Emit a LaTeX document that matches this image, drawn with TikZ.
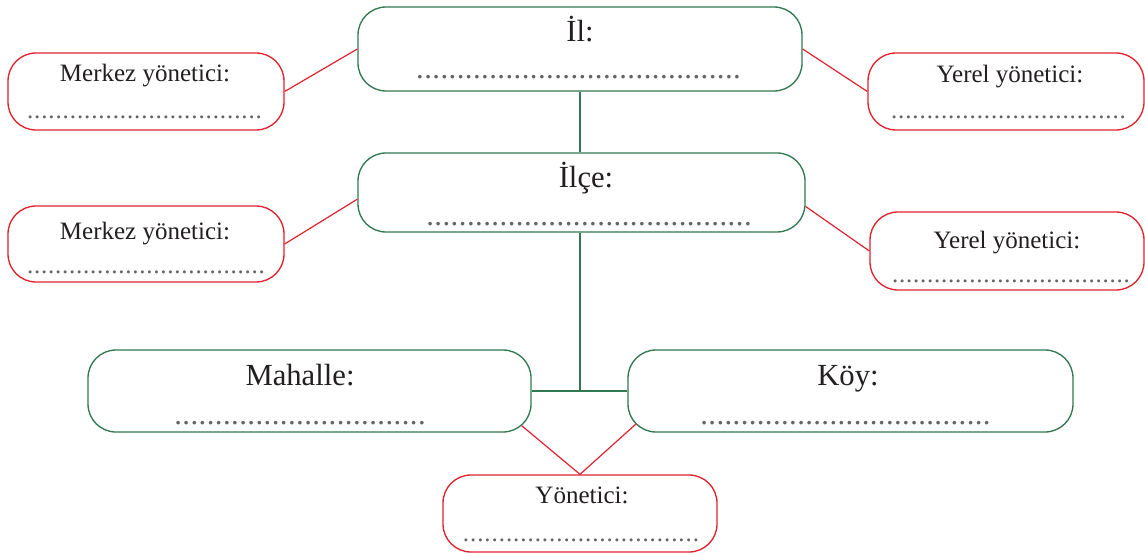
\documentclass[tikz,border=0pt]{standalone}
\usepackage{fontspec}
\setmainfont{Liberation Serif}
\definecolor{boxgreen}{RGB}{50,120,80}
\definecolor{boxred}{RGB}{225,35,45}
\definecolor{dotgray}{RGB}{100,100,100}
\definecolor{ink}{RGB}{35,31,32}
\newcommand\dotrow[2]{\makebox[#1]{\xleaders\hbox to #2{\hss.\hss}\hfill}}
\tikzset{
  greenbox/.style={draw=boxgreen, line width=1pt, rounded corners=21pt, inner sep=0pt},
  redbox/.style={draw=boxred, line width=1pt, rounded corners=21pt, inner sep=0pt},
  biglabel/.style={anchor=base, inner sep=0pt, text=ink, font=\fontsize{23}{27}\selectfont},
  smalllabel/.style={anchor=base, inner sep=0pt, text=ink, font=\fontsize{18.75}{22}\selectfont},
  bigdots/.style={anchor=base, inner sep=0pt, text=dotgray, font=\fontsize{23}{27}\selectfont},
  smalldots/.style={anchor=base, inner sep=0pt, text=dotgray, font=\fontsize{18.75}{22}\selectfont},
  greenlink/.style={draw=boxgreen, line width=2.2pt},
  redlink/.style={draw=boxred, line width=0.9pt},
}
\begin{document}
\begin{tikzpicture}[x=0.75pt,y=-0.75pt]
  \fill[white] (0,0) rectangle (1145,553);
  \useasboundingbox (0,0) rectangle (1145,553);

  % Boxes
  \node[greenbox, minimum width=333pt, minimum height=63pt] (il) at (580,49) {};
  \node[greenbox, minimum width=335.25pt, minimum height=59.25pt] (ilce) at (581.5,192.5) {};
  \node[greenbox, minimum width=332.25pt, minimum height=61.5pt] (mahalle) at (309.5,391) {};
  \node[greenbox, minimum width=333.75pt, minimum height=61.5pt] (koy) at (850.5,391) {};

  \node[redbox, minimum width=207pt, minimum height=57.75pt] (merkezil) at (146,91.5) {};
  \node[redbox, minimum width=207pt, minimum height=57.75pt] (yerelil) at (1006,91.5) {};
  \node[redbox, minimum width=207pt, minimum height=57pt] (merkezilce) at (146,244) {};
  \node[redbox, minimum width=205.5pt, minimum height=58.5pt] (yerelilce) at (1007,251) {};
  \node[redbox, minimum width=205.5pt, minimum height=57.75pt] (yonetici) at (580,513.5) {};

  % Labels
  \node[biglabel] (il-l) at (580,41) {İl:};
  \node[biglabel] (ilce-l) at (586,187) {İlçe:};
  \node[biglabel] (mahalle-l) at (300,385) {Mahalle:};
  \node[biglabel] (koy-l) at (848,385) {Köy:};
  \node[smalllabel] (merkezil-l) at (145,81) {Merkez yönetici:};
  \node[smalllabel] (yerelil-l) at (1010,82) {Yerel yönetici:};
  \node[smalllabel] (merkezilce-l) at (145,239) {Merkez yönetici:};
  \node[smalllabel] (yerelilce-l) at (1007,248) {Yerel yönetici:};
  \node[smalllabel] (yonetici-l) at (582,503) {Yönetici:};

  % Dotted blanks
  \node[bigdots] (il-d) at (578.5,78.5) {\dotrow{244pt}{6pt}};
  \node[bigdots] (ilce-d) at (589,225.5) {\dotrow{244.5pt}{6pt}};
  \node[bigdots] (mahalle-d) at (300,424.5) {\dotrow{189pt}{6pt}};
  \node[bigdots] (koy-d) at (845.5,424.5) {\dotrow{218pt}{6pt}};
  \node[smalldots] (merkezil-d) at (144.5,118.5) {\dotrow{177pt}{5.25pt}};
  \node[smalldots] (yerelil-d) at (1008.5,118.5) {\dotrow{177pt}{5.25pt}};
  \node[smalldots] (merkezilce-d) at (146,273.5) {\dotrow{179pt}{5.25pt}};
  \node[smalldots] (yerelilce-d) at (1011,282.5) {\dotrow{179pt}{5.25pt}};
  \node[smalldots] (yonetici-d) at (581,541.5) {\dotrow{178pt}{5.25pt}};

  % Green tree
  \coordinate (junction) at (mahalle.east -| il.south);
  \draw[greenlink] (il.south) -- (il.south |- ilce.north);
  \draw[greenlink] (ilce.south -| il.south) -- (junction);
  \draw[greenlink] (mahalle.east) -- (koy.west);

  % Red links
  \draw[redlink] (il.west) -- (merkezil.east);
  \draw[redlink] (il.east) -- (yerelil.west);
  \draw[redlink] ([yshift=-5pt]ilce.west) -- (merkezilce.east);
  \draw[redlink] ([yshift=-10.5pt]ilce.east) -- (yerelilce.west);
  \draw[redlink] ([shift={(-10,-7)}]mahalle.south east) -- (yonetici.north);
  \draw[redlink] ([shift={(9,-9)}]koy.south west) -- (yonetici.north);
\end{tikzpicture}
\end{document}
